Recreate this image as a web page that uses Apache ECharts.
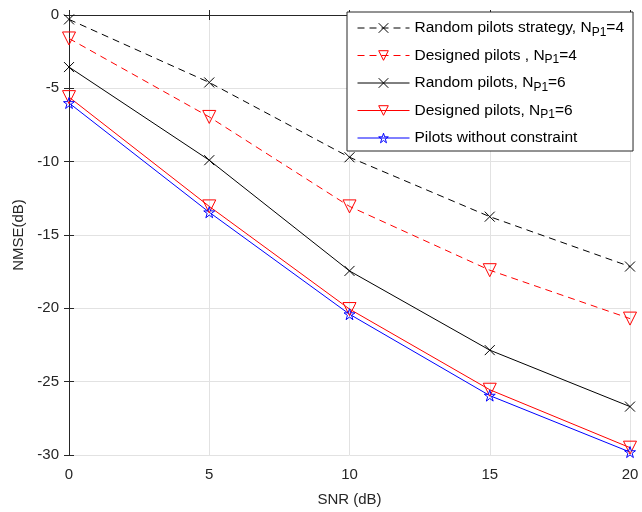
<!DOCTYPE html>
<html><head><meta charset="utf-8">
<script src="https://cdn.jsdelivr.net/npm/echarts@6/dist/echarts.min.js"></script>
<style>html,body{margin:0;padding:0;background:#fff}#c{width:642px;height:512px}</style>
</head><body><div id="c"></div>
<script>
const snr = [0, 5, 10, 15, 20];
const randomN4 = [-0.3, -4.6, -9.7, -13.75, -17.15];
const designedN4 = [-1.6, -6.95, -13.05, -17.4, -20.7];
const randomN6 = [-3.55, -9.9, -17.45, -22.85, -26.7];
const designedN6 = [-5.6, -13.05, -20.05, -25.55, -29.5];
const noConstraint = [-6.0, -13.45, -20.4, -25.95, -29.8];
const seriesNames = ['Random pilots strategy, NP1=4', 'Designed pilots , NP1=4', 'Random pilots, NP1=6', 'Designed pilots, NP1=6', 'Pilots without constraint'];

const X = 'path://M0,0L10,10M10,0L0,10';
const TRI = 'path://M0,0L10,0L5,9Z';
const STAR = 'path://M5,0L6.2,3.6L10,3.6L6.9,5.8L8.1,9.5L5,7.2L1.9,9.5L3.1,5.8L0,3.6L3.8,3.6Z';

const styles = [
  {color:'#000000', dashed:true, symbol:X, size:10},
  {color:'#ff0000', dashed:true, symbol:TRI, size:13},
  {color:'#000000', dashed:false, symbol:X, size:10},
  {color:'#ff0000', dashed:false, symbol:TRI, size:13},
  {color:'#0000ff', dashed:false, symbol:STAR, size:11}
];
const values = [randomN4, designedN4, randomN6, designedN6, noConstraint];

function pts(arr){ return snr.map((x,i)=>[x, arr[i]]); }
const series = values.map((v,i)=>{
  const s = styles[i];
  return {
    name: seriesNames[i], type:'line', data: pts(v), symbol: s.symbol, symbolSize: s.size,
    showAllSymbol: true,
    lineStyle:{color:s.color, width:1, type: s.dashed ? [7,5] : 'solid'},
    itemStyle:{color:'rgba(0,0,0,0)', borderColor: s.color, borderWidth: 1},
    emphasis:{disabled:true}, animation:false, z: 3
  };
});
const legendData = seriesNames.map((n,i)=>{
  const s = styles[i];
  return {
    name:n,
    itemStyle:{color:'rgba(0,0,0,0)', borderColor:s.color, borderWidth:1},
    lineStyle:{color:s.color, width:1, type: s.dashed ? [7,5] : 'solid'}
  };
});

const chart = echarts.init(document.getElementById('c'));
const axisCol = '#262626';
chart.setOption({
  animation:false,
  backgroundColor:'#fff',
  grid:{left:69, right:12, top:15, bottom:56},
  xAxis:[{
    type:'value', min:0, max:20, interval:5,
    name:'SNR (dB)', nameLocation:'middle', nameGap:37,
    nameTextStyle:{fontFamily:'Liberation Sans', fontSize:15, color:axisCol},
    axisLine:{lineStyle:{color:axisCol}}, axisTick:{inside:true, length:5, lineStyle:{color:axisCol}},
    axisLabel:{fontFamily:'Liberation Sans', fontSize:15, color:axisCol, margin:12},
    splitLine:{show:true, lineStyle:{color:'#e2e2e2'}}
  },{
    type:'value', min:0, max:20, interval:5, position:'top',
    axisLine:{lineStyle:{color:axisCol}}, axisTick:{inside:true, length:5, lineStyle:{color:axisCol}},
    axisLabel:{show:false}, splitLine:{show:false}
  }],
  yAxis:[{
    type:'value', min:-30, max:0, interval:5,
    name:'NMSE(dB)', nameLocation:'middle', nameGap:37,
    nameTextStyle:{fontFamily:'Liberation Sans', fontSize:15, color:axisCol},
    axisLine:{lineStyle:{color:axisCol}}, axisTick:{inside:true, length:5, lineStyle:{color:axisCol}},
    axisLabel:{fontFamily:'Liberation Sans', fontSize:15, color:axisCol, margin:10},
    splitLine:{show:true, lineStyle:{color:'#e2e2e2'}}
  },{
    type:'value', min:-30, max:0, interval:5, position:'right',
    axisLine:{lineStyle:{color:axisCol}}, axisTick:{inside:true, length:5, lineStyle:{color:axisCol}},
    axisLabel:{show:false}, splitLine:{show:false}
  }],
  legend:{
    show:true, orient:'vertical', left:347, top:12,
    backgroundColor:'#fff', borderColor:axisCol, borderWidth:1,
    padding:[8,9,5,10], itemGap:9, itemWidth:52, itemHeight:12,
    data: legendData,
    textStyle:{fontFamily:'Liberation Sans', fontSize:15.5, color:'#000',
      rich:{sub:{fontFamily:'Liberation Sans', fontSize:12, color:'#000', verticalAlign:'bottom', padding:[9,0,0,0]},
            t:{fontFamily:'Liberation Sans', fontSize:15.5, color:'#000'}}},
    formatter: function(n){
      const m = n.match(/^(.*N)P1(=\d)$/);
      if(m) return '{t|'+m[1]+'}{sub|P1}{t|'+m[2]+'}';
      return '{t|'+n+'}';
    },
    selectedMode:false
  },
  series: series
});
</script></body></html>
